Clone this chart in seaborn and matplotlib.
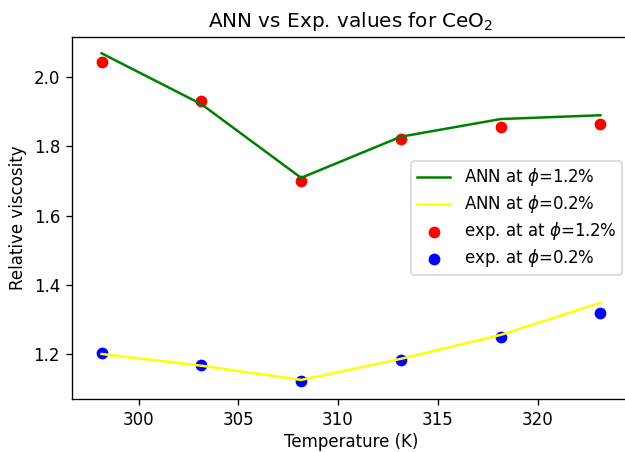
import matplotlib
matplotlib.use("Agg")
import matplotlib.pyplot as plt
import seaborn as sns
import numpy as np

temperature = [298.15, 303.15, 308.15, 313.15, 318.15, 323.15]
ann_12 = [2.069, 1.922, 1.709, 1.828, 1.879, 1.890]
ann_02 = [1.200, 1.166, 1.125, 1.186, 1.255, 1.348]
exp_12 = [2.045, 1.932, 1.699, 1.822, 1.857, 1.865]
exp_02 = [1.202, 1.169, 1.123, 1.182, 1.248, 1.319]

fig = plt.figure(figsize=(625/120, 452/120), dpi=120)
ax = fig.add_axes([0.1147, 0.1166, 0.8938, 0.8022])

sns.lineplot(x=temperature, y=ann_12, color="green", linewidth=1.5,
             label=r"ANN at $\phi$=1.2%", ax=ax)
sns.lineplot(x=temperature, y=ann_02, color="yellow", linewidth=1.5,
             label=r"ANN at $\phi$=0.2%", ax=ax)
sns.scatterplot(x=temperature, y=exp_12, color="red", s=50, linewidth=0,
                label=r"exp. at at $\phi$=1.2%", ax=ax)
sns.scatterplot(x=temperature, y=exp_02, color="blue", s=50, linewidth=0,
                label=r"exp. at $\phi$=0.2%", ax=ax)

ax.margins(x=0.06)
ax.set_ylim(1.069, 2.117)
ax.set_xticks([300, 305, 310, 315, 320])
ax.set_yticks([1.2, 1.4, 1.6, 1.8, 2.0])
ax.set_xlabel("Temperature (K)", labelpad=2.2)
ax.set_ylabel("Relative viscosity")
ax.set_title(r"ANN vs Exp. values for CeO$_2$")
ax.legend(loc="center right", labelspacing=0.3, borderpad=0.35)

fig.savefig("out.png", dpi=120)
